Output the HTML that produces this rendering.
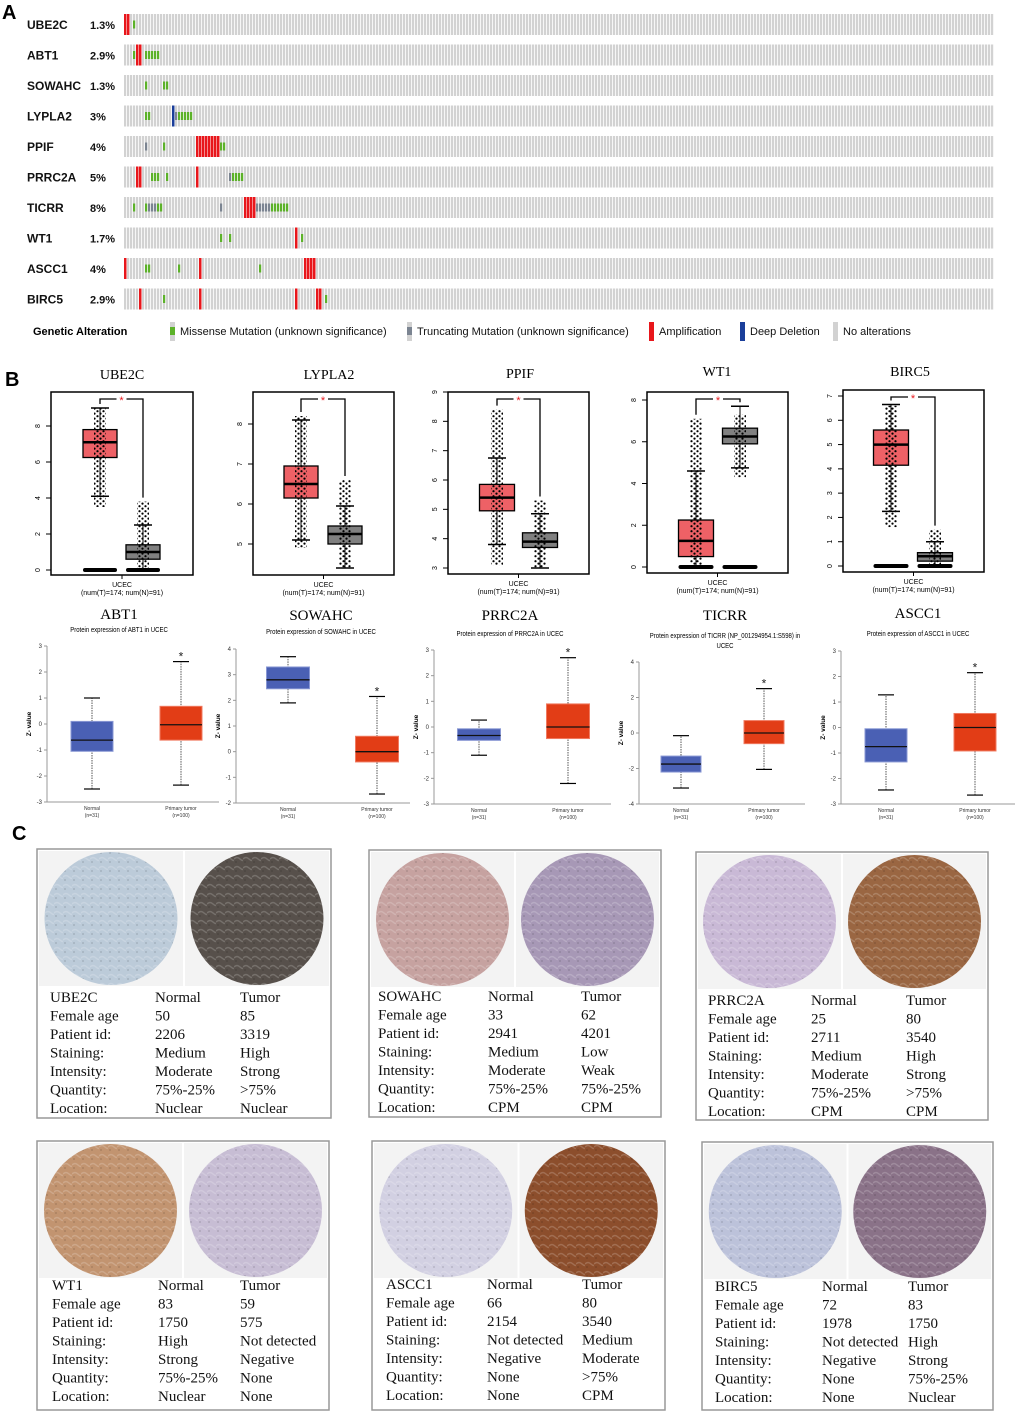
<!DOCTYPE html>
<html><head><meta charset="utf-8"><style>
html,body{margin:0;padding:0;background:#fff;}
svg{display:block;}
.sans{font-family:"Liberation Sans",sans-serif;}
.serif{font-family:"Liberation Serif",serif;}
</style></head><body>
<svg id="fig" width="1020" height="1411" viewBox="0 0 1020 1411" xmlns="http://www.w3.org/2000/svg">
<defs>
<pattern id="dots" width="6" height="5" patternUnits="userSpaceOnUse"><circle cx="1.5" cy="1.2" r="1.1" fill="#000"/><circle cx="4.5" cy="3.6" r="1.1" fill="#000"/></pattern>
<pattern id="tex" width="9" height="9" patternUnits="userSpaceOnUse"><path d="M0 4 Q3 1 6 4 T12 4" fill="none" stroke="rgba(255,255,255,0.18)" stroke-width="1.5"/><circle cx="2" cy="7" r="1" fill="rgba(0,0,0,0.12)"/></pattern>
</defs>
<g id="panelA"></g>
<g id="panelB1"></g>
<g id="panelB2"></g>
<g id="panelC"></g>
</svg>
<script>
// ---------- Panel A data ----------
const genes = ['UBE2C','ABT1','SOWAHC','LYPLA2','PPIF','PRRC2A','TICRR','WT1','ASCC1','BIRC5'];
const pcts = ['1.3%','2.9%','1.3%','3%','4%','5%','8%','1.7%','4%','2.9%'];
const nSamples = 290;
const ampEvents = [[0,0],[0,1],[1,4],[1,5],[4,24],[4,25],[4,26],[4,27],[4,28],[4,29],[4,30],[4,31],[5,4],[5,5],[5,24],[6,40],[6,41],[6,42],[6,43],[7,57],[8,0],[8,25],[8,60],[8,61],[8,62],[8,63],[9,5],[9,25],[9,57],[9,64],[9,65]];
const missenseEvents = [[0,3],[1,3],[1,7],[1,8],[1,9],[1,10],[1,11],[2,7],[2,13],[2,14],[3,7],[3,8],[3,18],[3,19],[3,20],[3,21],[3,22],[4,13],[4,32],[4,33],[5,9],[5,10],[5,11],[5,14],[5,36],[5,37],[5,38],[5,39],[6,3],[6,7],[6,11],[6,12],[6,49],[6,50],[6,51],[6,52],[6,53],[6,54],[7,32],[7,35],[7,59],[8,7],[8,8],[8,18],[8,45],[9,13],[9,67]];
const truncEvents = [[3,17],[4,7],[5,35],[6,8],[6,9],[6,10],[6,32],[6,44],[6,45],[6,46],[6,47],[6,48]];
const delEvents = [[3,16]];

// ---------- Panel B top (GEPIA) data ----------
const topGenes = ['UBE2C','LYPLA2','PPIF','WT1','BIRC5'];
const topTicks = [[0,2,4,6,8],[5,6,7,8],[3,4,5,6,7,8,9],[0,2,4,6,8],[0,1,2,3,4,5,6,7]];
const tumorStats = [[4.1,6.25,7.1,7.8,9.0],[5.1,6.15,6.5,6.95,8.1],[3.8,4.95,5.4,5.85,6.75],[0,0.5,1.25,2.25,4.6],[2.25,4.15,5.0,5.6,6.65]];
const normalStats = [[0,0.6,1.0,1.4,2.5],[4.4,5.0,5.25,5.45,5.95],[3.0,3.7,3.9,4.2,4.85],[4.75,5.9,6.25,6.65,7.7],[0,0.2,0.4,0.55,1.0]];
const tumorExtent = [[3.5,9.0],[4.9,8.2],[3.1,8.4],[0,7.1],[1.6,6.6]];
const normalExtent = [[0,3.8],[4.4,6.6],[3.0,5.3],[4.3,7.3],[0,1.5]];
const tumorZero = [true,false,false,true,true];
const normalZero = [true,false,false,true,true];

// ---------- Panel B bottom (UALCAN) data ----------
const botGenes = ['ABT1','SOWAHC','PRRC2A','TICRR','ASCC1'];
const botSub = [['Protein expression of ABT1 in UCEC'],['Protein expression of SOWAHC in UCEC'],['Protein expression of PRRC2A in UCEC'],['Protein expression of TICRR (NP_001294954.1:S598) in','UCEC'],['Protein expression of ASCC1 in UCEC']];
const botTicks = [[-3,-2,-1,0,1,2,3],[-2,-1,0,1,2,3,4],[-3,-2,-1,0,1,2,3],[-4,-2,0,2,4],[-3,-2,-1,0,1,2,3]];
const botNormal = [[-2.5,-1.05,-0.62,0.1,1.0],[1.9,2.45,2.8,3.3,3.7],[-1.1,-0.52,-0.33,-0.07,0.27],[-3.1,-2.2,-1.75,-1.3,-0.15],[-2.45,-1.35,-0.75,-0.05,1.28]];
const botTumor = [[-2.35,-0.62,-0.03,0.68,2.4],[-1.65,-0.4,0,0.6,2.15],[-2.2,-0.45,0,0.9,2.7],[-2.05,-0.6,0,0.7,2.5],[-2.65,-0.92,0,0.55,2.15]];

// ---------- Panel C data ----------
const ihcGenes = ['UBE2C','SOWAHC','PRRC2A','WT1','ASCC1','BIRC5'];
const ihcRowLabels = ['Female age','Patient id:','Staining:','Intensity:','Quantity:','Location:'];
const ihcNormal = [['50','2206','Medium','Moderate','75%-25%','Nuclear'],['33','2941','Medium','Moderate','75%-25%','CPM'],['25','2711','Medium','Moderate','75%-25%','CPM'],['83','1750','High','Strong','75%-25%','Nuclear'],['66','2154','Not detected','Negative','None','None'],['72','1978','Not detected','Negative','None','None']];
const ihcTumor = [['85','3319','High','Strong','>75%','Nuclear'],['62','4201','Low','Weak','75%-25%','CPM'],['80','3540','High','Strong','>75%','CPM'],['59','575','Not detected','Negative','None','None'],['80','3540','Medium','Moderate','>75%','CPM'],['83','1750','High','Strong','75%-25%','Nuclear']];

const NS='http://www.w3.org/2000/svg';
function mk(parent,tag,attrs,text){const e=document.createElementNS(NS,tag);for(const k in attrs)e.setAttribute(k,attrs[k]);if(text!==undefined)e.textContent=text;parent.appendChild(e);return e;}

// ===== Panel A =====
(function(){
const g=document.getElementById('panelA');
const x0=124,pitch=3,bw=2.2,rowTop=14,rowPitch=30.5,rowH=21;
const xs=i=>x0+i*pitch;
const ys=r=>rowTop+r*rowPitch;
const l=mk(g,'text',{x:2,y:19,'font-size':20,'font-weight':'bold',class:'sans'},'A');


genes.forEach((gn,r)=>{
 const t=mk(g,'text',{x:27,y:ys(r)+15,'font-size':12,'font-weight':'bold',class:'sans',fill:'#111'},gn);
 
 
 const p=mk(g,'text',{x:90,y:ys(r)+15,'font-size':11,'font-weight':'bold',class:'sans',fill:'#111'},pcts[r]);
 
 
 const track=mk(g,'g',{});
 
 
 for(let i=0;i<nSamples;i++) mk(track,'rect',{x:xs(i),y:ys(r),width:bw,height:rowH,fill:'#d2d2d2'});
});
const drawFull=(arr,col,name)=>arr.forEach(([r,i])=>{const e=mk(g,'rect',{x:xs(i),y:ys(r),width:bw+0.3,height:rowH,fill:col});
 
 });
const drawSmall=(arr,col,name)=>arr.forEach(([r,i])=>{const e=mk(g,'rect',{x:xs(i),y:ys(r)+rowH/2-4,width:bw,height:8,fill:col});
 
 });
drawFull(ampEvents,'#e8161b','amplification-mark');
drawFull(delEvents,'#1a3e9a','deep-deletion-mark');
drawSmall(missenseEvents,'#5cb229','missense-mark');
drawSmall(truncEvents,'#7b8491','truncating-mark');
const lg=mk(g,'g',{});


mk(lg,'text',{x:33,y:335,'font-size':11,'font-weight':'bold',class:'sans'},'Genetic Alteration');
const items=[[170,'#5cb229',true,'Missense Mutation (unknown significance)'],[407,'#7b8491',true,'Truncating Mutation (unknown significance)'],[649,'#e8161b',false,'Amplification'],[740,'#1a3e9a',false,'Deep Deletion'],[833,null,false,'No alterations']];
items.forEach(([x,c,small,txt])=>{
 const it=mk(lg,'g',{});
 
 
 mk(it,'rect',{x:x,y:322,width:5,height:19,fill:'#d2d2d2'});
 if(c) mk(it,'rect',{x:x,y:small?327:322,width:5,height:small?8:19,fill:c});
 mk(it,'text',{x:x+10,y:335,'font-size':11,class:'sans',fill:'#111'},txt);
});
})();

// ===== Panel B top =====
(function(){
const g=document.getElementById('panelB1');
const l=mk(g,'text',{x:5,y:386,'font-size':20,'font-weight':'bold',class:'sans'},'B');


const L=[
 {f:[51,193,392,575],m:[0,570,8,426],tc:100,nc:143,hw:17,tx:122,ty:379},
 {f:[253,394,392,575],m:[5,544,8,424],tc:301,nc:345,hw:17,tx:329,ty:379},
 {f:[448,589,392,574],m:[3,568,9,392],tc:497,nc:540,hw:17.5,tx:520,ty:378},
 {f:[647,788,392,573],m:[0,567,8,400],tc:696,nc:740,hw:17.5,tx:717,ty:376},
 {f:[843,984,390,572],m:[0,566,7,396],tc:891,nc:935,hw:17.5,tx:910,ty:376}];
topGenes.forEach((gn,k)=>{
 const P=L[k];const pg=mk(g,'g',{});
 
 
 const y=v=>P.m[1]+(v-P.m[0])*(P.m[3]-P.m[1])/(P.m[2]-P.m[0]);
 mk(pg,'text',{x:P.tx,y:P.ty,'font-size':14,'text-anchor':'middle',class:'serif'},gn);
 mk(pg,'rect',{x:P.f[0],y:P.f[2],width:P.f[1]-P.f[0],height:P.f[3]-P.f[2],fill:'none',stroke:'#000','stroke-width':1.5});
 topTicks[k].forEach(v=>{const yy=y(v);
  mk(pg,'line',{x1:P.f[0]-5,x2:P.f[0],y1:yy,y2:yy,stroke:'#000','stroke-width':1});
  mk(pg,'text',{x:P.f[0]-13,y:yy,'font-size':7,'text-anchor':'middle',class:'sans',transform:`rotate(-90 ${P.f[0]-13} ${yy})`,'dominant-baseline':'middle'},v);
 });
 const mid=(P.f[0]+P.f[1])/2;
 mk(pg,'line',{x1:mid,x2:mid,y1:P.f[3],y2:P.f[3]+4,stroke:'#000'});
 mk(pg,'text',{x:mid,y:P.f[3]+12,'font-size':7,'text-anchor':'middle',class:'sans'},'UCEC');
 mk(pg,'text',{x:mid,y:P.f[3]+20,'font-size':7,'text-anchor':'middle',class:'sans'},'(num(T)=174; num(N)=91)');
 const drawBox=(s,ext,cx,fill,zero,nm)=>{
  const bg=mk(pg,'g',{});
  
  
  mk(bg,'line',{x1:cx,x2:cx,y1:y(s[0]),y2:y(s[4]),stroke:'#000'});
  mk(bg,'rect',{x:cx-P.hw,y:y(s[3]),width:2*P.hw,height:y(s[1])-y(s[3]),fill:fill,stroke:'#000','stroke-width':1.3});
  mk(bg,'rect',{x:cx-6,y:y(ext[1]),width:12,height:y(ext[0])-y(ext[1]),fill:'url(#dots)'});
  mk(bg,'line',{x1:cx-P.hw,x2:cx+P.hw,y1:y(s[2]),y2:y(s[2]),stroke:'#000','stroke-width':2.5});
  [s[0],s[4]].forEach(v=>mk(bg,'line',{x1:cx-9,x2:cx+9,y1:y(v),y2:y(v),stroke:'#000','stroke-width':1.5}));
  if(zero) mk(bg,'rect',{x:cx-P.hw,y:y(0)-2,width:2*P.hw,height:4,fill:'#000',rx:2});
 };
 drawBox(tumorStats[k],tumorExtent[k],P.tc,'#ee6166',tumorZero[k],'tumor-box');
 drawBox(normalStats[k],normalExtent[k],P.nc,'#808080',normalZero[k],'normal-box');
 const by=P.f[2]+7;
 const bt=Math.min(y(tumorExtent[k][1]),y(tumorStats[k][4]))-4, bn=Math.min(y(normalExtent[k][1]),y(normalStats[k][4]))-4;
 const br=mk(pg,'polyline',{points:`${P.tc},${bt} ${P.tc},${by} ${P.nc},${by} ${P.nc},${bn}`,fill:'none',stroke:'#000','stroke-width':1.3});
 
 
 mk(pg,'rect',{x:(P.tc+P.nc)/2-5,y:by-3,width:10,height:6,fill:'#fff'});
 mk(pg,'text',{x:(P.tc+P.nc)/2,y:by+5,'font-size':11,'text-anchor':'middle',fill:'#e8161b',class:'sans'},'*');
});
})();

// ===== Panel B bottom =====
(function(){
const g=document.getElementById('panelB2');
const L=[
 {ax:47,xe:219,m:[3,646,-3,802],nc:92,tc:181,hw:21,tx:119,ty:619,sy:632},
 {ax:236,xe:410,m:[4,649,-2,803],nc:288,tc:377,hw:21.5,tx:321,ty:620,sy:634},
 {ax:434,xe:611,m:[3,650,-3,804],nc:479,tc:568,hw:21.5,tx:510,ty:620,sy:636},
 {ax:639,xe:805,m:[4,662,-4,804],nc:681,tc:764,hw:20,tx:725,ty:620,sy:638},
 {ax:841,xe:1015,m:[3,651,-3,804],nc:886,tc:975,hw:21,tx:918,ty:618,sy:636}];
botGenes.forEach((gn,k)=>{
 const P=L[k];const pg=mk(g,'g',{});
 
 
 const y=v=>P.m[1]+(v-P.m[0])*(P.m[3]-P.m[1])/(P.m[2]-P.m[0]);
 mk(pg,'text',{x:P.tx,y:P.ty,'font-size':15,'text-anchor':'middle',class:'serif'},gn);
 botSub[k].forEach((s,j)=>mk(pg,'text',{x:P.tx,y:P.sy+j*10,'font-size':7.5,'text-anchor':'middle',class:'sans',transform:`translate(${P.tx*0.2},0) scale(0.8,1)`},s));
 mk(pg,'line',{x1:P.ax,x2:P.ax,y1:P.m[1],y2:P.m[3],stroke:'#999'});
 mk(pg,'line',{x1:P.ax,x2:P.xe,y1:P.m[3],y2:P.m[3],stroke:'#999'});
 botTicks[k].forEach(v=>{const yy=y(v);
  mk(pg,'line',{x1:P.ax-3,x2:P.ax,y1:yy,y2:yy,stroke:'#999'});
  mk(pg,'text',{x:P.ax-5,y:yy+2,'font-size':6,'text-anchor':'end',class:'sans',fill:'#333'},v);});
 const ym=(P.m[1]+P.m[3])/2;
 mk(pg,'text',{x:P.ax-16,y:ym,'font-size':6.5,'font-weight':'bold','text-anchor':'middle',class:'sans',transform:`rotate(-90 ${P.ax-16} ${ym})`},'Z- value');
 [[P.nc,'Normal','(n=31)'],[P.tc,'Primary tumor','(n=100)']].forEach(([cx,a,b])=>{
  mk(pg,'text',{x:cx,y:P.m[3]+8,'font-size':5,'text-anchor':'middle',class:'sans',fill:'#333'},a);
  mk(pg,'text',{x:cx,y:P.m[3]+15,'font-size':5,'text-anchor':'middle',class:'sans',fill:'#333'},b);});
 const drawBox=(s,cx,fill,stroke,nm,star)=>{
  const bg=mk(pg,'g',{});
  
  
  mk(bg,'line',{x1:cx,x2:cx,y1:y(s[0]),y2:y(s[4]),stroke:'#555','stroke-dasharray':'1.5,1'});
  [s[0],s[4]].forEach(v=>mk(bg,'line',{x1:cx-8,x2:cx+8,y1:y(v),y2:y(v),stroke:'#000','stroke-width':1.2}));
  mk(bg,'rect',{x:cx-P.hw,y:y(s[3]),width:2*P.hw,height:y(s[1])-y(s[3]),fill:fill,stroke:stroke,'stroke-width':1});
  mk(bg,'line',{x1:cx-P.hw,x2:cx+P.hw,y1:y(s[2]),y2:y(s[2]),stroke:'#111','stroke-width':1.3});
  if(star) mk(bg,'text',{x:cx,y:y(s[4])-1,'font-size':12,'text-anchor':'middle',class:'sans',fill:'#222'},'*');
 };
 drawBox(botNormal[k],P.nc,'#4a60b4','#8897d4','normal-box',false);
 drawBox(botTumor[k],P.tc,'#e23d16','#f07a60','tumor-box',true);
});
})();

// ===== Panel C =====
(function(){
const g=document.getElementById('panelC');
const l=mk(g,'text',{x:12,y:840,'font-size':20,'font-weight':'bold',class:'sans'},'C');


const L=[
 {f:[37,331,849,1118],ry:997,c:[50,155,240]},
 {f:[369,661,850,1117],ry:996,c:[378,488,581]},
 {f:[696,988,852,1120],ry:1000,c:[708,811,906]},
 {f:[37,329,1141,1410],ry:1285,c:[52,158,240]},
 {f:[372,665,1141,1410],ry:1284,c:[386,487,582]},
 {f:[702,993,1142,1410],ry:1286,c:[715,822,908]}];
const cols=[['#bccbd9','#57504b'],['#c6a2a0','#a798b6'],['#c9b9d6','#9a6642'],['#c29470','#c7bdd4'],['#d2d0e2','#8c4e2c'],['#bcc2da','#8a7288']];
ihcGenes.forEach((gn,k)=>{
 const P=L[k];const pg=mk(g,'g',{});
 
 
 mk(pg,'rect',{x:P.f[0],y:P.f[2],width:P.f[1]-P.f[0],height:P.f[3]-P.f[2],fill:'#fff',stroke:'#999','stroke-width':1.5});
 const w=P.f[1]-P.f[0], ih=135, mid=P.f[0]+w/2;
 [[P.f[0]+2,0],[mid+1,1]].forEach(([ix,j])=>{
  const im=mk(pg,'g',{});
  
  
  const cx=ix+(w/2-3)/2, cy=P.f[2]+2+ih/2;
  mk(im,'rect',{x:ix,y:P.f[2]+2,width:w/2-3,height:ih,fill:'#f3f3f3'});
  mk(im,'circle',{cx:cx,cy:cy,r:ih/2-1,fill:cols[k][j]});
  mk(im,'circle',{cx:cx,cy:cy,r:ih/2-1,fill:'url(#tex)'});
 });
 const rows=[[gn,'Normal','Tumor']].concat(ihcRowLabels.map((lb,i)=>[lb,ihcNormal[k][i],ihcTumor[k][i]]));
 rows.forEach((r,i)=>r.forEach((t,j)=>mk(pg,'text',{x:P.c[j],y:P.ry+i*18.5+5,'font-size':15,class:'serif',fill:'#111'},t)));
});
})();
</script>
</body></html>
